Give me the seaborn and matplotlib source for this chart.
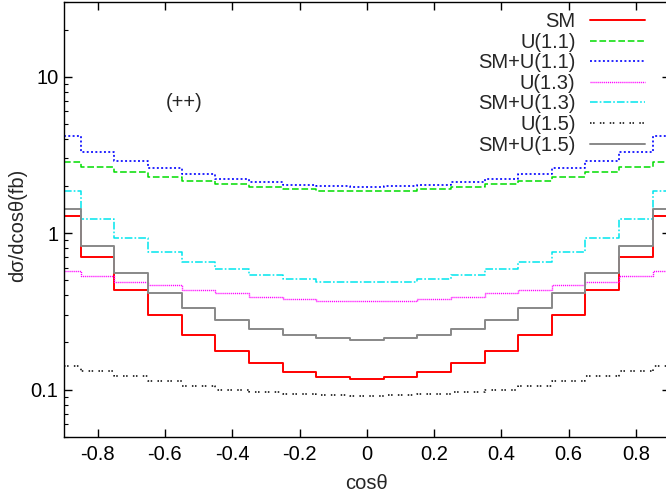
import matplotlib
matplotlib.use("Agg")
import matplotlib.pyplot as plt
import matplotlib.ticker as mticker
import pandas as pd
import seaborn as sns

# bin centres in cos(theta)
cos_theta = [-0.9, -0.8, -0.7, -0.6, -0.5, -0.4, -0.3, -0.2, -0.1, 0.0,
             0.1, 0.2, 0.3, 0.4, 0.5, 0.6, 0.7, 0.8, 0.9]

# differential cross sections d(sigma)/d(cos theta) in fb
sm = [1.29, 0.70, 0.434, 0.300, 0.222, 0.177, 0.147, 0.130, 0.121, 0.1175,
      0.121, 0.130, 0.147, 0.177, 0.222, 0.300, 0.434, 0.70, 1.29]
u_11 = [2.83, 2.64, 2.46, 2.30, 2.16, 2.07, 1.96, 1.91, 1.87, 1.86,
        1.87, 1.91, 1.96, 2.07, 2.16, 2.30, 2.46, 2.64, 2.83]
sm_u_11 = [4.15, 3.31, 2.89, 2.59, 2.38, 2.23, 2.11, 2.04, 1.99, 1.97,
           1.99, 2.04, 2.11, 2.23, 2.38, 2.59, 2.89, 3.31, 4.15]
u_13 = [0.576, 0.536, 0.490, 0.465, 0.432, 0.413, 0.393, 0.380, 0.371, 0.367,
        0.371, 0.380, 0.393, 0.413, 0.432, 0.465, 0.490, 0.536, 0.576]
sm_u_13 = [1.87, 1.23, 0.924, 0.763, 0.658, 0.588, 0.541, 0.508, 0.490, 0.486,
           0.490, 0.508, 0.541, 0.588, 0.658, 0.763, 0.924, 1.23, 1.87]
u_15 = [0.142, 0.132, 0.122, 0.1135, 0.106, 0.100, 0.097, 0.0937, 0.0919, 0.091,
        0.0919, 0.0937, 0.097, 0.100, 0.106, 0.1135, 0.122, 0.132, 0.142]
sm_u_15 = [1.43, 0.833, 0.555, 0.413, 0.330, 0.278, 0.244, 0.224, 0.213, 0.209,
           0.213, 0.224, 0.244, 0.278, 0.330, 0.413, 0.555, 0.833, 1.43]

series_labels = ["SM", "U(1.1)", "SM+U(1.1)", "U(1.3)", "SM+U(1.3)", "U(1.5)", "SM+U(1.5)"]
series_values = [sm, u_11, sm_u_11, u_13, sm_u_13, u_15, sm_u_15]

styles = {
    "SM":         dict(color="#ff0000", lw=1.4, ls="-"),
    "U(1.1)":     dict(color="#00dd00", lw=1.1, ls=(0, (4.8, 2.0))),
    "SM+U(1.1)":  dict(color="#0000ff", lw=1.2, ls=(0, (1.4, 1.7))),
    "U(1.3)":     dict(color="#ff00ff", lw=1.0, ls=(0, (0.8, 0.6))),
    "SM+U(1.3)":  dict(color="#00e5ee", lw=1.1, ls=(0, (5.5, 1.5, 1.2, 1.5))),
    "U(1.5)":     dict(color="#000000", lw=1.1, ls=(0, (1.1, 1.1, 1.1, 3.8))),
    "SM+U(1.5)":  dict(color="#888888", lw=1.4, ls="-"),
}

FS = 14.5

sns.set_style("ticks")
plt.rcParams["font.family"] = ["Liberation Sans", "DejaVu Sans"]
plt.rcParams["lines.scale_dashes"] = False

fig = plt.figure(figsize=(6.66, 5.0), dpi=100)
ax = fig.add_axes([0.0961, 0.1266, 0.9093, 0.8694])

for label, vals in zip(series_labels, series_values):
    df = pd.DataFrame({"x": cos_theta, "y": vals})
    st = styles[label]
    sns.lineplot(data=df, x="x", y="y", ax=ax, drawstyle="steps-mid",
                 color=st["color"], linewidth=st["lw"], linestyle=st["ls"],
                 label=label, sort=True)

ax.set_yscale("log")
ax.set_xlim(-0.9, 0.9)
ax.set_ylim(0.05, 30)

ax.set_xticks([-0.8, -0.6, -0.4, -0.2, 0.0, 0.2, 0.4, 0.6, 0.8])
ax.xaxis.set_major_formatter(mticker.FuncFormatter(
    lambda v, p: "0" if abs(v) < 1e-9 else f"{v:g}"))
ax.set_yticks([0.1, 1, 10])
ax.set_yticklabels(["0.1", "1", "10"])
ax.yaxis.set_minor_locator(mticker.LogLocator(base=10, subs=range(2, 10)))
ax.yaxis.set_minor_formatter(mticker.NullFormatter())
ax.xaxis.set_minor_locator(mticker.NullLocator())

ax.tick_params(which="both", direction="in", top=True, right=True, colors="black")
ax.tick_params(which="major", length=6, width=1, labelsize=FS)
ax.tick_params(which="minor", length=3, width=0.8)
ax.tick_params(axis="x", which="major", pad=6)
ax.tick_params(axis="y", which="major", pad=4)

for sp in ax.spines.values():
    sp.set_visible(True)
    sp.set_color("black")
    sp.set_linewidth(1.0)

ax.set_xlabel("cosθ", fontsize=FS, labelpad=7)
ax.set_ylabel("dσ/dcosθ(fb)", fontsize=FS)
ax.yaxis.set_label_coords(-0.061, 0.487)

ax.text(-0.543, 6.8, "(++)", fontsize=FS, ha="center", va="center")

leg = ax.legend(loc="upper right", bbox_to_anchor=(645 / 666, 1 - 12 / 500),
                bbox_transform=fig.transFigure, frameon=False, markerfirst=False,
                fontsize=FS, handlelength=2.75, handletextpad=0.7,
                labelspacing=0.08, borderpad=0, borderaxespad=0)

fig.savefig("out.png", dpi=100)
